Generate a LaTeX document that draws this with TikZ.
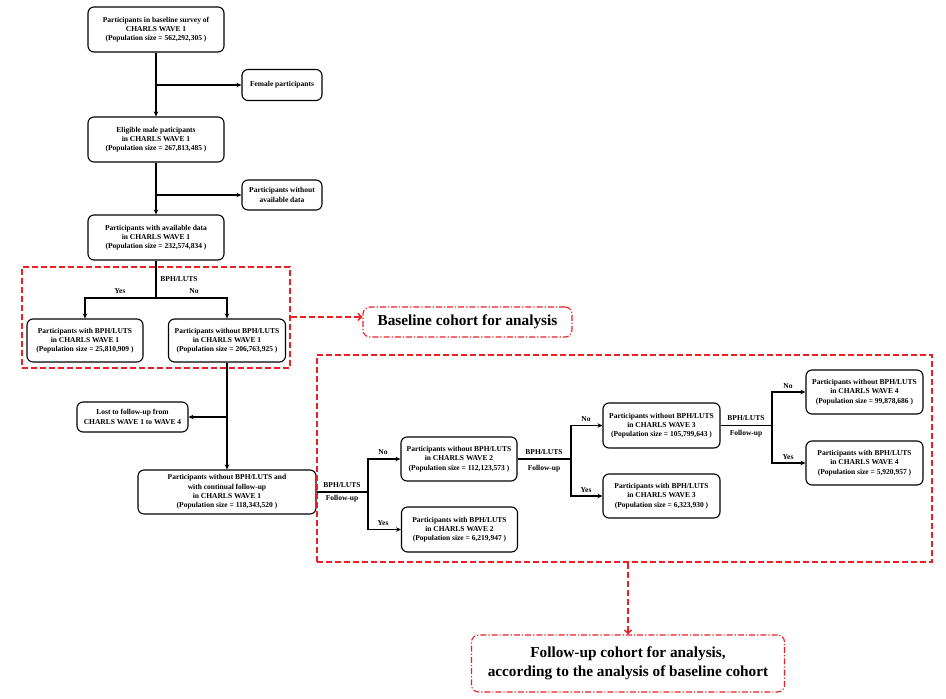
\documentclass[tikz,border=0pt]{standalone}
\usepackage{fontspec}
\setmainfont{Liberation Serif}
\usetikzlibrary{arrows.meta}
\definecolor{rd}{RGB}{232,32,36}
\tikzset{
  box/.style={draw, rounded corners=6pt, line width=1.1pt, align=center, inner sep=0pt,
    font=\bfseries\fontsize{7.5}{9.3}\selectfont},
  lbl/.style={font=\bfseries\fontsize{7.5}{9}\selectfont, inner sep=0pt},
  conn/.style={line width=1.1pt},
  arr/.style={line width=1.1pt, -{Stealth[length=5pt,width=4.5pt]}},
  redbox/.style={draw=rd, line width=1.5pt, dash pattern=on 6pt off 3pt, inner sep=0pt},
  redarr/.style={draw=rd, line width=1.5pt, dash pattern=on 6pt off 3pt, -{Straight Barb[length=3.5pt,width=7pt]}},
  cohort/.style={draw=rd, line width=1.1pt, dash pattern=on 6pt off 2pt on 1.2pt off 2pt, rounded corners=7pt,
    align=center, inner sep=0pt, font=\bfseries\fontsize{15.3}{18.5}\selectfont}
}
\begin{document}
\begin{tikzpicture}[x=1pt,y=-1pt]
\useasboundingbox (0,0) rectangle (946,699);
\fill[white] (0,0) rectangle (946,699);

% left column
\node[box, minimum width=136, minimum height=45] (A) at (156,29.5) {Participants in baseline survey of\\CHARLS WAVE 1\\(Population size = 562,292,305 )};
\node[box, minimum width=80, minimum height=31] (Fem) at (282,85) {Female participants};
\node[box, minimum width=136, minimum height=45] (B) at (156,139.5) {Eligible male paticipants\\in CHARLS WAVE 1\\(Population size = 267,813,485 )};
\node[box, minimum width=80, minimum height=30] (NoData) at (282,195) {Participants without\\available data};
\node[box, minimum width=136, minimum height=45] (C) at (156,237.5) {Participants with available data\\in CHARLS WAVE 1\\(Population size = 232,574,834 )};

\node[box, minimum width=116, minimum height=43] (D) at (85,340.5) {Participants with BPH/LUTS\\in CHARLS WAVE 1\\(Population size = 25,810,909 )};
\node[box, minimum width=117, minimum height=43] (E) at (227,340.5) {Participants without BPH/LUTS\\in CHARLS WAVE 1\\(Population size = 206,763,925 )};

\node[box, minimum width=111, minimum height=30] (Lost) at (132.5,417) {Lost to follow-up from\\CHARLS WAVE 1 to WAVE 4};
\node[box, minimum width=178, minimum height=44] (F) at (227,492) {Participants without BPH/LUTS and\\with continual follow-up\\in CHARLS WAVE 1\\(Population size = 118,343,520 )};

% follow-up boxes
\node[box, minimum width=116, minimum height=44] (G) at (459,459) {Participants without BPH/LUTS\\in CHARLS WAVE 2\\(Population size = 112,123,573 )};
\node[box, minimum width=116, minimum height=45] (H) at (459.5,529.5) {Participants with BPH/LUTS\\in CHARLS WAVE 2\\(Population size = 6,219,947 )};
\node[box, minimum width=117, minimum height=45] (I) at (661.5,425.5) {Participants without BPH/LUTS\\in CHARLS WAVE 3\\(Population size = 105,799,643 )};
\node[box, minimum width=117, minimum height=44] (J) at (661.5,496) {Participants with BPH/LUTS\\in CHARLS WAVE 3\\(Population size = 6,323,930 )};
\node[box, minimum width=117, minimum height=44] (K) at (864.5,392) {Participants without BPH/LUTS\\in CHARLS WAVE 4\\(Population size = 99,878,686 )};
\node[box, minimum width=117, minimum height=44] (L) at (864.5,463) {Participants with BPH/LUTS\\in CHARLS WAVE 4\\(Population size = 5,920,957 )};

% red frames and cohort boxes
\node[redbox, minimum width=268, minimum height=101] (R1) at (156,317.5) {};
\node[redbox, minimum width=615, minimum height=207] (R2) at (624.5,458.5) {};
\node[cohort, minimum width=209, minimum height=30] (Base) at (467.5,322) {Baseline cohort for analysis};
\node[cohort, minimum width=313, minimum height=57] (FU) at (628,663.5) {Follow-up cohort for analysis,\\according to the analysis of baseline cohort};

% main column connectors
\draw[arr] (A.south) -- (B.north);
\draw[arr] (A.south |- Fem.west) -- (Fem.west);
\draw[arr] (B.south) -- (C.north);
\draw[arr] (B.south |- NoData.west) -- (NoData.west);

\coordinate (s1) at (156,298);
\draw[conn] (C.south) -- (s1);
\draw[arr] (s1) -| (D.north);
\draw[arr] (s1) -| (E.north);
\node[lbl] (t1) at (179,279) {BPH/LUTS};
\node[lbl] (y1) at (120,291) {Yes};
\node[lbl] (n1) at (194,291) {No};

\draw[arr] (E.south) -- (F.north);
\draw[arr] (E.south |- Lost.east) -- (Lost.east);

% wave 2
\coordinate (b1) at (368,492);
\draw[conn] (F.east) -- (b1);
\draw[arr] (b1) |- (G.west);
\draw[arr] (b1) |- (H.west);
\node[lbl] (t2) at (342,485.5) {BPH/LUTS};
\node[lbl] (f2) at (342,499) {Follow-up};
\node[lbl] (n2) at (383,452) {No};
\node[lbl] (y2) at (383,523) {Yes};

% wave 3
\coordinate (b2) at (571,459);
\draw[conn] (G.east) -- (b2);
\draw[arr] (b2) |- (I.west);
\draw[arr] (b2) |- (J.west);
\node[lbl] (t3) at (544,452) {BPH/LUTS};
\node[lbl] (f3) at (544,468.5) {Follow-up};
\node[lbl] (n3) at (586,419) {No};
\node[lbl] (y3) at (586,490) {Yes};

% wave 4
\coordinate (b3) at (772,425.5);
\draw[conn] (I.east) -- (b3);
\draw[arr] (b3) |- (K.west);
\draw[arr] (b3) |- (L.west);
\node[lbl] (t4) at (746,418) {BPH/LUTS};
\node[lbl] (f4) at (746,434) {Follow-up};
\node[lbl] (n4) at (788,386) {No};
\node[lbl] (y4) at (788,457) {Yes};

% red arrows
\draw[redarr] (R1.east) ++(0,-0.5) -- (Base.west |- 0,317);
\draw[redarr] (FU.north |- R2.south) -- (FU.north);
\end{tikzpicture}
\end{document}
